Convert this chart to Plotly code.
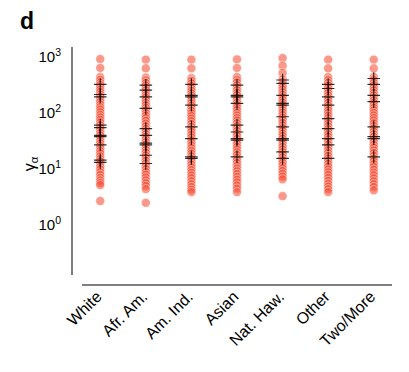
import plotly.graph_objects as go

groups = ['White', 'Afr. Am.', 'Am. Ind.', 'Asian', 'Nat. Haw.', 'Other', 'Two/More']

# gamma_alpha per group
dots = {
    'White': [920, 640, 440, 395, 350, 318, 290, 262, 238, 214, 196, 175, 158, 142, 128, 116,
              104, 93, 84, 76, 68, 61, 55, 49, 44, 40, 36, 32, 29, 26, 23.5, 21, 19, 17, 15.2,
              13.8, 12.3, 11, 9.9, 8.8, 7.9, 7, 6.3, 5.7, 5.2, 2.7],
    'Afr. Am.': [900, 630, 430, 385, 345, 310, 280, 255, 230, 208, 190, 170, 152, 138, 124, 112,
                 100, 90, 81, 73, 65, 58, 52, 47, 42, 38, 34, 30.5, 27.5, 24.5, 22, 19.8, 17.6,
                 15.8, 14.1, 12.6, 11.2, 10, 8.9, 8, 7.1, 6.3, 5.6, 5, 4.4, 2.5],
    'Am. Ind.': [900, 630, 420, 378, 340, 305, 276, 250, 226, 204, 185, 166, 150, 135, 122, 110,
                 99, 89, 80, 72, 64, 57, 51, 46, 41, 37, 33, 29.5, 26.5, 23.7, 21.2, 19, 17,
                 15.2, 13.6, 12.1, 10.8, 9.6, 8.6, 7.7, 6.9, 6.1, 5.4, 4.8, 4.3, 3.9],
    'Asian': [910, 640, 440, 392, 352, 315, 284, 256, 231, 209, 189, 170, 153, 139, 125, 113,
              101, 91, 82, 74, 66, 59, 53, 48, 43, 39, 35, 31, 28, 25, 22.4, 20, 18, 16,
              14.4, 12.9, 11.5, 10.3, 9.2, 8.2, 7.3, 6.5, 5.8, 5.1, 4.5, 3.9],
    'Nat. Haw.': [960, 700, 520, 400, 360, 322, 290, 262, 236, 212, 192, 172, 155, 140, 126, 113,
                  102, 92, 83, 75, 67, 60, 54, 48, 43, 39, 35, 31.5, 28, 25, 22.5, 20.2, 18.1,
                  16.2, 14.5, 13, 11.6, 10.4, 9.3, 8.3, 7.4, 6.6, 3.3],
    'Other': [900, 630, 440, 390, 348, 312, 281, 253, 228, 206, 186, 168, 151, 136, 123, 111,
              100, 90, 81, 73, 65, 58, 52, 47, 42, 38, 34, 30.5, 27.3, 24.4, 21.8, 19.5, 17.4,
              15.5, 13.9, 12.4, 11.1, 9.9, 8.8, 7.9, 7, 6.2, 5.5, 4.9, 4.4, 3.9],
    'Two/More': [900, 630, 440, 392, 350, 314, 283, 255, 230, 207, 187, 169, 152, 137, 124, 112,
                 101, 91, 82, 74, 66, 59, 53, 47, 42, 38, 34, 30.5, 27.2, 24.3, 21.7, 19.4, 17.3,
                 15.4, 13.8, 12.3, 11, 9.8, 8.7, 7.8, 6.9, 6.1, 5.4, 4.8, 4.2],
}

crosses = {
    'White': [325, 215, 195, 61, 55, 40, 38, 27, 14.5, 13.2],
    'Afr. Am.': [315, 257, 195, 121, 53, 40, 29, 27, 17.7, 12.6],
    'Am. Ind.': [325, 208, 195, 139, 57, 35, 16.6, 15.5],
    'Asian': [315, 208, 195, 149, 61, 46, 35, 33, 16.6],
    'Nat. Haw.': [390, 340, 208, 149, 139, 86, 57, 35, 33, 20.4, 15.5],
    'Other': [325, 275, 195, 139, 80, 53, 35, 27, 15.5],
    'Two/More': [415, 325, 208, 160, 57, 38, 35, 16.6],
}

tick_vals = [1, 10, 100, 1000]
tick_text = ['10<sup>0</sup>', '10<sup>1</sup>', '10<sup>2</sup>', '10<sup>3</sup>']

fig = go.Figure()
for i, g in enumerate(groups):
    fig.add_trace(go.Scatter(
        x=[i] * len(dots[g]), y=dots[g], mode='markers',
        marker=dict(size=9, color='rgba(246,78,52,0.58)',
                    line=dict(color='rgba(255,255,255,0.6)', width=0.8)),
        showlegend=False, hoverinfo='skip'))
for i, g in enumerate(groups):
    fig.add_trace(go.Scatter(
        x=[i] * len(crosses[g]), y=crosses[g], mode='markers',
        marker=dict(symbol='cross-thin', size=9,
                    line=dict(color='rgba(0,0,0,0.8)', width=1.2)),
        showlegend=False, hoverinfo='skip'))

font = 'Liberation Sans, Arial, sans-serif'
W, H = 310, 228  # plot area in px
# page body has an 8px margin, so the figure is shifted left/up by 8
fig.update_layout(
    width=409, height=372,
    margin=dict(l=74, r=25, t=39, b=105),
    plot_bgcolor='white', paper_bgcolor='white',
    font=dict(family=font, size=14, color='black'),
    # detached spines, seaborn despine(offset=10) look
    shapes=[
        dict(type='line', xref='paper', yref='paper', x0=-10 / W, x1=-10 / W,
             y0=0, y1=1, line=dict(color='#555', width=1.5)),
        dict(type='line', xref='paper', yref='paper', x0=0, x1=1,
             y0=-10 / H, y1=-10 / H, line=dict(color='#555', width=1.5)),
    ],
    annotations=[
        dict(text='<b>d</b>', xref='paper', yref='paper', x=-64 / W, y=1 + 26 / H,
             xanchor='left', yanchor='middle', showarrow=False,
             font=dict(size=23, family=font)),
        dict(text='γ<sub>α</sub>', xref='paper', yref='paper', x=-52 / W, y=0.49,
             xanchor='center', yanchor='middle', showarrow=False, textangle=-90,
             font=dict(size=16, family=font)),
    ],
)
fig.update_xaxes(
    range=[-0.4, 6.4], tickvals=list(range(7)),
    ticktext=[g + '\u00a0' for g in groups], tickangle=-45,
    showgrid=False, zeroline=False, showline=False, ticks='', automargin=False,
    ticklabelstandoff=5, tickfont=dict(size=16))
fig.update_yaxes(
    type='log', range=[-0.89, 3.18], tickvals=tick_vals, ticktext=tick_text,
    showgrid=False, zeroline=False, showline=False, ticks='', automargin=False,
    ticklabelstandoff=20, tickfont=dict(size=15))

fig.write_html('out.html')
